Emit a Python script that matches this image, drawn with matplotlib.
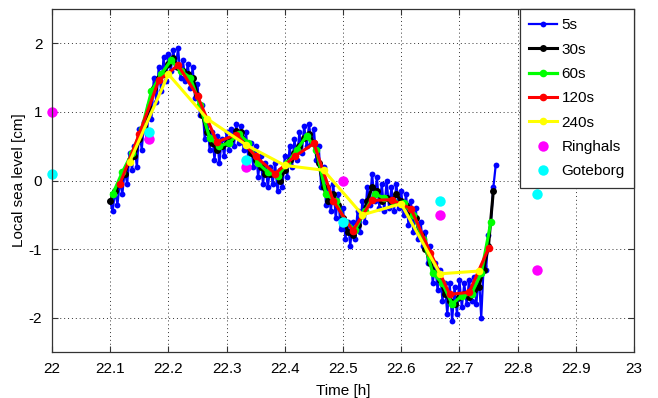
import numpy as np
import matplotlib
matplotlib.use("Agg")
import matplotlib.pyplot as plt

plt.rcParams['font.family'] = ['Liberation Sans', 'DejaVu Sans']
plt.rcParams['axes.unicode_minus'] = False

# 5s series (read at ~15 s steps from the picture)
t5_start = 22.1
v5 = [-0.3, -0.45, -0.15, -0.35, 0.0, -0.2, 0.15, -0.05, 0.4, 0.15,
      0.5, 0.2, 0.75, 0.45, 0.85, 0.6, 1.1, 0.9, 1.5, 1.15,
      1.65, 1.3, 1.8, 1.45, 1.85, 1.6, 1.9, 1.65, 1.93, 1.5,
      1.75, 1.45, 1.7, 1.35, 1.65, 1.2, 1.4, 0.95, 1.1, 0.6,
      0.9, 0.45, 0.7, 0.3, 0.65, 0.25, 0.6, 0.35, 0.7, 0.45,
      0.75, 0.5, 0.82, 0.55, 0.8, 0.45, 0.7, 0.3, 0.55, 0.2,
      0.5, 0.05, 0.35, -0.05, 0.25, -0.1, 0.2, -0.05, 0.25, -0.15,
      0.15, -0.1, 0.35, 0.05, 0.5, 0.2, 0.6, 0.3, 0.7, 0.4,
      0.8, 0.5, 0.82, 0.55, 0.75, 0.3, 0.5, -0.1, 0.2, -0.35,
      -0.1, -0.45, -0.05, -0.55, -0.2, -0.7, -0.4, -0.85, -0.6, -0.95,
      -0.6, -0.85, -0.45, -0.75, -0.3, -0.6, -0.1, -0.35, 0.1, -0.3,
      0.05, -0.4, -0.05, -0.45, 0.0, -0.4, -0.1, -0.45, -0.05, -0.4,
      -0.15, -0.5, -0.2, -0.65, -0.3, -0.75, -0.4, -0.85, -0.6, -0.95,
      -0.75, -1.2, -0.95, -1.5, -1.2, -1.6, -1.3, -1.75, -1.5, -1.95,
      -1.5, -2.05, -1.55, -1.95, -1.45, -1.85, -1.5, -1.8, -1.45, -1.75,
      -1.4, -1.8, -1.35, -2.0, -1.25, -1.3, -0.8, -0.6, -0.1, 0.23]

# 30s series
t30_start = 22.1
v30 = [-0.3, -0.15, -0.05, 0.1, 0.3, 0.35, 0.6, 0.8, 1.05, 1.35,
       1.5, 1.55, 1.7, 1.78, 1.65, 1.6, 1.55, 1.5, 1.25, 0.95,
       0.7, 0.55, 0.45, 0.5, 0.55, 0.6, 0.72, 0.7, 0.55, 0.4,
       0.3, 0.2, 0.1, 0.1, 0.1, 0.0, 0.15, 0.3, 0.4, 0.5,
       0.62, 0.68, 0.55, 0.25, -0.1, -0.3, -0.2, -0.35, -0.55, -0.75,
       -0.8, -0.65, -0.5, -0.3, -0.1, -0.15, -0.3, -0.25, -0.3, -0.2,
       -0.3, -0.35, -0.5, -0.55, -0.8, -1.0, -1.2, -1.35, -1.45, -1.65,
       -1.75, -1.8, -1.7, -1.65, -1.7, -1.6, -1.55, -1.3, -0.95, -0.15]

# 60s series
t60_start = 22.1042
v60 = [-0.2, 0.12, 0.4, 0.75, 1.3, 1.55, 1.75, 1.6, 1.5, 1.1,
       0.62, 0.5, 0.55, 0.68, 0.55, 0.25, 0.12, 0.06, 0.25, 0.45,
       0.65, 0.45, -0.2, -0.3, -0.6, -0.72, -0.45, -0.2, -0.25, -0.32,
       -0.33, -0.5, -0.85, -1.35, -1.5, -1.8, -1.68, -1.65, -1.35, -0.6]

# 120s series
t120_start = 22.1167
v120 = [-0.05, 0.68, 1.46, 1.68, 1.23, 0.56, 0.67, 0.35, 0.1, 0.35,
        0.54, -0.3, -0.73, -0.29, -0.28, -0.41, -1.05, -1.66, -1.63, -0.99]

# 240s series
t240_start = 22.1333
v240 = [0.27, 1.55, 0.9, 0.52, 0.22, 0.15, -0.5, -0.34, -1.36, -1.32]

# tide gauges
gauge_t = [22.0, 22.1667, 22.3333, 22.5, 22.6667, 22.8333]
ringhals = [1.0, 0.6, 0.2, 0.0, -0.5, -1.3]
goteborg = [0.1, 0.7, 0.3, -0.6, -0.3, -0.2]


def times(start, step_s, n):
    return start + np.arange(n) * step_s / 3600.0


fig = plt.figure(figsize=(6.58, 3.98), dpi=100)
ax = fig.add_axes([52 / 658, 46 / 398, 582 / 658, 343 / 398])

ax.plot(times(t5_start, 15, len(v5)), v5, '-o', color='b', lw=1.6, ms=4.2, mew=0, label='5s')
ax.plot(times(t30_start, 30, len(v30)), v30, '-o', color='k', lw=2.2, ms=5, mew=0, label='30s')
ax.plot(times(t60_start, 60, len(v60)), v60, '-o', color='#00ff00', lw=2.3, ms=5.5, mew=0, label='60s')
ax.plot(times(t120_start, 120, len(v120)), v120, '-o', color='r', lw=2.2, ms=5.5, mew=0, label='120s')
ax.plot(times(t240_start, 240, len(v240)), v240, '-o', color='#ffff00', lw=2.2, ms=5.5, mew=0, label='240s')
ax.plot(gauge_t, ringhals, 'o', color='#ff00ff', ms=7.5, mew=0, clip_on=False, label='Ringhals')
ax.plot(gauge_t, goteborg, 'o', color='#00ffff', ms=7.5, mew=0, clip_on=False, label='Goteborg')

ax.set_xlim(22, 23)
ax.set_ylim(-2.5, 2.5)
ax.set_xticks(np.arange(22, 23.01, 0.1))
ax.set_xticklabels(['22', '22.1', '22.2', '22.3', '22.4', '22.5', '22.6', '22.7', '22.8', '22.9', '23'])
ax.set_yticks([-2, -1, 0, 1, 2])
ax.tick_params(direction='in', top=True, right=True, length=4.5, width=0.8,
               labelsize=11, pad=7, color='0.2')
ax.grid(True, color='0.2', linestyle=(0, (1, 3)), lw=0.7)
for s in ax.spines.values():
    s.set_color('0.2')
    s.set_linewidth(0.9)

ax.set_xlabel('Time [h]', fontsize=11, labelpad=6)
ax.set_ylabel('Local sea level [cm]', fontsize=11, labelpad=2)

leg = ax.legend(loc='upper right', bbox_to_anchor=(1, 1), borderaxespad=0,
                fontsize=11, handlelength=1.85, handletextpad=0.3,
                labelspacing=0.68, borderpad=0.6, fancybox=False, framealpha=1)
leg.get_frame().set_edgecolor('0.2')
leg.get_frame().set_linewidth(0.9)

fig.savefig('out.png', dpi=100)
